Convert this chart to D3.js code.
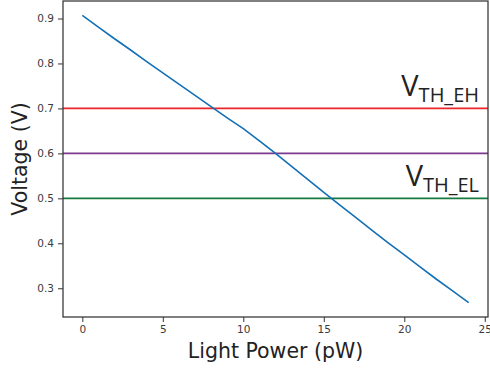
<!DOCTYPE html>
<html>
<head>
<meta charset="utf-8">
<script src="https://cdn.jsdelivr.net/npm/d3@7"></script>
<style>
  body { margin: 0; background: #fff; }
  svg { display: block; }
  .axis text { font-family: "DejaVu Sans", sans-serif; font-size: 10.5px; fill: #3b3b3b; }
  .axis path, .axis line { stroke: #333; }
</style>
</head>
<body>
<div id="chart"></div>
<script>
// light power (pW) vs output voltage (V)
const power = [0, 1, 2, 3, 4, 5, 6, 7, 8, 9, 10, 11, 12, 13, 14, 15, 16, 17, 18, 19, 20, 21, 22, 23, 24];
const voltage = [0.907, 0.881, 0.855, 0.830, 0.804, 0.779, 0.754, 0.729, 0.704, 0.679, 0.655, 0.628, 0.600, 0.571, 0.542, 0.513, 0.485, 0.457, 0.429, 0.401, 0.374, 0.347, 0.320, 0.294, 0.268];

// threshold lines
const thresholds = [0.7, 0.6, 0.5];
const thresholdColors = ['#ee2529', '#7b3a8c', '#177a40'];
const thresholdLabels = [
    { value: 0.7, main: 'V', sub: 'TH_EH' },
    { value: 0.5, main: 'V', sub: 'TH_EL' },
];

const xTicks = [0, 5, 10, 15, 20, 25];
const yTicks = [0.3, 0.4, 0.5, 0.6, 0.7, 0.8, 0.9];

const specs = {
    width: 490,
    height: 369,
    margin: { top: 1, right: 2, bottom: 52, left: 63 },
};

const width = specs.width - specs.margin.left - specs.margin.right;
const height = specs.height - specs.margin.top - specs.margin.bottom;

const xPad = (d3.max(power) - d3.min(power)) * 0.05;
const yPad = (d3.max(voltage) - d3.min(voltage)) * 0.05;
const x = d3.scaleLinear()
    .domain([d3.min(power) - xPad, d3.max(power) + xPad])
    .range([0, width]);
const y = d3.scaleLinear()
    .domain([d3.min(voltage) - yPad, d3.max(voltage) + yPad])
    .range([height, 0]);

const svg = d3.select('#chart')
    .append('svg')
    .attr('width', specs.width)
    .attr('height', specs.height);

const g = svg.append('g')
    .attr('transform', `translate(${specs.margin.left},${specs.margin.top})`);

g.selectAll('.threshold')
    .data(thresholds)
    .enter()
    .append('line')
    .attr('class', 'threshold')
    .attr('x1', 0)
    .attr('x2', width)
    .attr('y1', d => y(d))
    .attr('y2', d => y(d))
    .attr('stroke', (d, i) => thresholdColors[i])
    .attr('stroke-width', 1.6);

const line = d3.line()
    .x((d, i) => x(power[i]))
    .y(d => y(d));

g.append('path')
    .datum(voltage)
    .attr('fill', 'none')
    .attr('stroke', '#1470b6')
    .attr('stroke-width', 1.6)
    .attr('d', line);

const labels = g.selectAll('.th-label')
    .data(thresholdLabels)
    .enter()
    .append('text')
    .attr('class', 'th-label')
    .attr('x', width - 9)
    .attr('y', d => y(d.value) - 12)
    .attr('text-anchor', 'end')
    .style('font-family', '"Open Sans", sans-serif')
    .style('fill', '#222');
labels.append('tspan')
    .style('font-size', '29px')
    .text(d => d.main);
labels.append('tspan')
    .attr('dy', 5.5)
    .style('font-size', '20px')
    .text(d => d.sub);

g.append('g')
    .attr('class', 'axis axis--x')
    .attr('transform', `translate(0,${height})`)
    .call(d3.axisBottom(x).tickValues(xTicks).tickSize(5).tickPadding(4).tickSizeOuter(0));

g.append('g')
    .attr('class', 'axis axis--y')
    .call(d3.axisLeft(y).tickValues(yTicks).tickFormat(d3.format('.1f')).tickSize(5).tickPadding(4).tickSizeOuter(0));

// frame
g.append('rect')
    .attr('width', width)
    .attr('height', height)
    .attr('fill', 'none')
    .attr('stroke', '#333')
    .attr('stroke-width', 1.25);

g.selectAll('.axis path').remove();

g.append('text')
    .attr('x', width / 2)
    .attr('y', height + 40.5)
    .attr('text-anchor', 'middle')
    .style('font-family', '"DejaVu Sans", sans-serif')
    .style('font-size', '20.5px')
    .style('fill', '#222')
    .text('Light Power (pW)');

g.append('text')
    .attr('transform', `translate(${27 - specs.margin.left},${height / 2}) rotate(-90)`)
    .attr('text-anchor', 'middle')
    .style('font-family', '"DejaVu Sans", sans-serif')
    .style('font-size', '20.5px')
    .style('fill', '#222')
    .text('Voltage (V)');
</script>
</body>
</html>
